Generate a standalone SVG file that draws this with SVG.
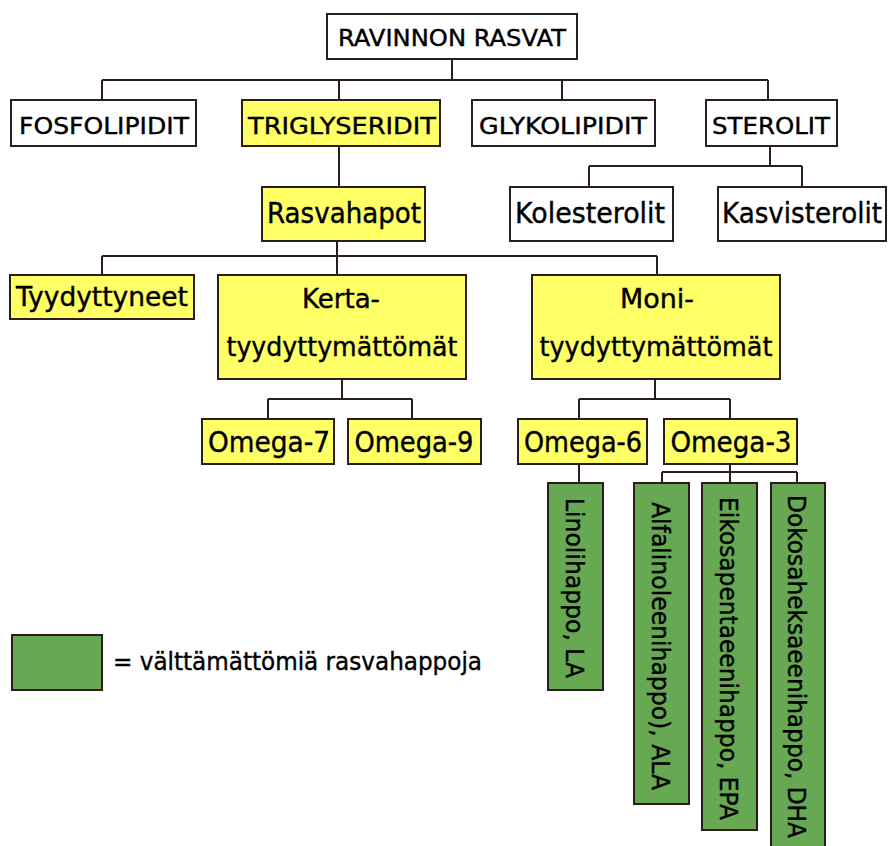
<svg xmlns="http://www.w3.org/2000/svg" width="888" height="846" viewBox="0 0 888 846">
<style>
.b{stroke:#2b1d1d;stroke-width:2;fill:#ffffff}
.y{fill:#ffff66}
.g{fill:#67a853}
.t{font-family:"DejaVu Sans",Verdana,sans-serif;fill:#000;stroke:#000;stroke-width:0.4;text-anchor:middle}
.u{font-size:23px}
.m{font-size:26px}
.o{font-size:28px}
.v{font-family:"DejaVu Sans",Verdana,sans-serif;fill:#000;stroke:#000;stroke-width:0.4;font-size:24px}
#conn path{stroke:#2b1d1d;stroke-width:2;fill:none}
</style>
<rect width="888" height="846" fill="#ffffff"/>
<g id="conn">
<path d="M452 59V80M102 80H768M102 80V100M339 80V100M562 80V100M768 80V100"/>
<path d="M339 146V187"/>
<path d="M770 146V166M589 166H802M589 166V187M802 166V187"/>
<path d="M337 241V275M102 256H657M102 256V275M657 256V275"/>
<path d="M342 379V399M268 399H412M268 399V419M412 399V419"/>
<path d="M655 379V399M579 399H730M579 399V419M730 399V419"/>
<path d="M579 464V483"/>
<path d="M730 464V483M662 472H797M662 472V483M797 472V483"/>
</g>
<g id="ravinnon"><rect class="b" x="327" y="14" width="250" height="45"/><text class="t u" x="452" y="46" textLength="228" lengthAdjust="spacingAndGlyphs">RAVINNON RASVAT</text></g>
<g id="fosfo"><rect class="b" x="11" y="100" width="185" height="46"/><text class="t u" x="104" y="134" textLength="170" lengthAdjust="spacingAndGlyphs">FOSFOLIPIDIT</text></g>
<g id="trigly"><rect class="b y" x="242" y="100" width="198" height="46"/><text class="t u" x="342" y="134" textLength="188" lengthAdjust="spacingAndGlyphs">TRIGLYSERIDIT</text></g>
<g id="glyko"><rect class="b" x="472" y="100" width="183" height="46"/><text class="t u" x="563" y="134" textLength="168" lengthAdjust="spacingAndGlyphs">GLYKOLIPIDIT</text></g>
<g id="sterolit"><rect class="b" x="706" y="100" width="131" height="46"/><text class="t u" x="771" y="134" textLength="118" lengthAdjust="spacingAndGlyphs">STEROLIT</text></g>
<g id="rasvahapot"><rect class="b y" x="262" y="187" width="163" height="54"/><text class="t o" x="344" y="223" textLength="154" lengthAdjust="spacingAndGlyphs">Rasvahapot</text></g>
<g id="kolesterolit"><rect class="b" x="510" y="187" width="163" height="54"/><text class="t o" x="590" y="223" textLength="150" lengthAdjust="spacingAndGlyphs">Kolesterolit</text></g>
<g id="kasvisterolit"><rect class="b" x="718" y="187" width="168" height="54"/><text class="t o" x="802" y="223" textLength="160" lengthAdjust="spacingAndGlyphs">Kasvisterolit</text></g>
<g id="tyydyttyneet"><rect class="b y" x="10" y="275" width="184" height="44"/><text class="t m" x="102" y="306" textLength="172" lengthAdjust="spacingAndGlyphs">Tyydyttyneet</text></g>
<g id="kerta"><rect class="b y" x="218" y="275" width="248" height="104"/><text class="t m" x="341" y="308" textLength="78" lengthAdjust="spacingAndGlyphs">Kerta-</text><text class="t m" x="342" y="356" textLength="231" lengthAdjust="spacingAndGlyphs">tyydyttymättömät</text></g>
<g id="moni"><rect class="b y" x="532" y="275" width="248" height="104"/><text class="t m" x="657" y="308" textLength="74" lengthAdjust="spacingAndGlyphs">Moni-</text><text class="t m" x="656" y="356" textLength="233" lengthAdjust="spacingAndGlyphs">tyydyttymättömät</text></g>
<g id="omega7"><rect class="b y" x="202" y="419" width="132" height="45"/><text class="t o" x="269" y="452" textLength="122" lengthAdjust="spacingAndGlyphs">Omega-7</text></g>
<g id="omega9"><rect class="b y" x="348" y="419" width="133" height="45"/><text class="t o" x="414" y="452" textLength="119" lengthAdjust="spacingAndGlyphs">Omega-9</text></g>
<g id="omega6"><rect class="b y" x="518" y="419" width="129" height="45"/><text class="t o" x="583" y="452" textLength="118" lengthAdjust="spacingAndGlyphs">Omega-6</text></g>
<g id="omega3"><rect class="b y" x="664" y="419" width="133" height="45"/><text class="t o" x="731" y="452" textLength="121" lengthAdjust="spacingAndGlyphs">Omega-3</text></g>
<g id="la"><rect class="b g" x="548" y="483" width="55" height="207"/><text class="v" transform="translate(566 498) rotate(90)" textLength="180" lengthAdjust="spacingAndGlyphs">Linolihappo, LA</text></g>
<g id="ala"><rect class="b g" x="634" y="483" width="55" height="321"/><text class="v" transform="translate(652 502) rotate(90)" textLength="288" lengthAdjust="spacingAndGlyphs">Alfalinoleenihappo), ALA</text></g>
<g id="epa"><rect class="b g" x="702" y="483" width="55" height="347"/><text class="v" transform="translate(720 497) rotate(90)" textLength="323" lengthAdjust="spacingAndGlyphs">Eikosapentaeenihappo, EPA</text></g>
<g id="dha"><rect class="b g" x="771" y="483" width="54" height="380"/><text class="v" transform="translate(788 495) rotate(90)" textLength="343" lengthAdjust="spacingAndGlyphs">Dokosaheksaeenihappo, DHA</text></g>
<g id="legend"><rect class="b g" x="12" y="635" width="90" height="55"/><text class="v" x="113" y="670" font-size="22" textLength="369" lengthAdjust="spacingAndGlyphs">= välttämättömiä rasvahappoja</text></g>
</svg>
